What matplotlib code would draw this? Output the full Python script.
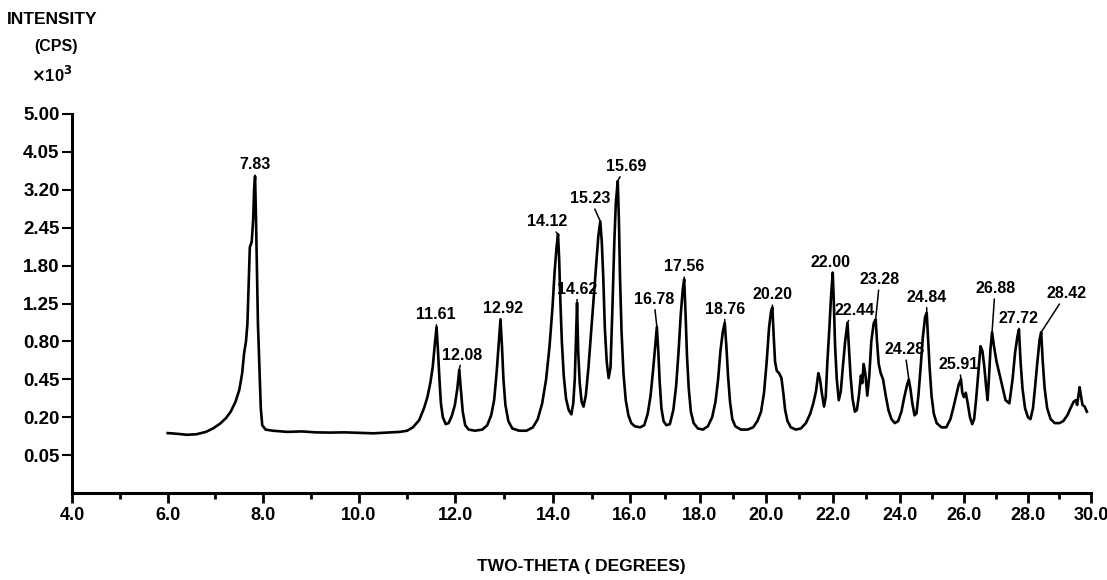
import numpy as np
import matplotlib
matplotlib.use('Agg')
import matplotlib.pyplot as plt
from matplotlib.ticker import FixedLocator, FixedFormatter

plt.rcParams['font.family'] = ['Liberation Sans', 'DejaVu Sans']
plt.rcParams['font.weight'] = 'bold'

# diffraction trace (two-theta in degrees, intensity in 10^3 cps)
two_theta = [
    6.00, 6.20, 6.40, 6.60, 6.80, 6.95, 7.10, 7.22, 7.32, 7.42, 7.50, 7.56, 7.60, 7.64, 7.67,
    7.70, 7.72, 7.76, 7.79, 7.81, 7.83, 7.85, 7.87, 7.89, 7.92, 7.95, 7.98, 8.05, 8.20, 8.50,
    8.80, 9.10, 9.40, 9.70, 10.00, 10.30, 10.60, 10.85, 11.00, 11.12, 11.25, 11.35, 11.42, 11.48,
    11.53, 11.57, 11.61, 11.64, 11.67, 11.70, 11.74, 11.80, 11.86, 11.93, 11.99, 12.04, 12.08,
    12.11, 12.15, 12.20, 12.27, 12.40, 12.55, 12.65, 12.73, 12.79, 12.84, 12.88, 12.92, 12.95,
    12.98, 13.02, 13.08, 13.16, 13.30, 13.45, 13.58, 13.68, 13.77, 13.85, 13.92, 13.98, 14.03,
    14.08, 14.12, 14.15, 14.18, 14.22, 14.27, 14.33, 14.40, 14.47, 14.52, 14.56, 14.59, 14.62,
    14.65, 14.69, 14.74, 14.79, 14.85, 14.92, 14.98, 15.05, 15.12, 15.18, 15.23, 15.27, 15.31,
    15.35, 15.40, 15.45, 15.50, 15.55, 15.60, 15.64, 15.69, 15.72, 15.75, 15.79, 15.84, 15.90,
    15.97, 16.05, 16.15, 16.30, 16.42, 16.52, 16.60, 16.67, 16.73, 16.78, 16.82, 16.86, 16.91,
    16.97, 17.05, 17.15, 17.25, 17.33, 17.40, 17.46, 17.52, 17.56, 17.60, 17.64, 17.69, 17.75,
    17.83, 17.95, 18.10, 18.25, 18.38, 18.48, 18.56, 18.63, 18.70, 18.76, 18.81, 18.86, 18.92,
    18.99, 19.08, 19.25, 19.45, 19.62, 19.75, 19.86, 19.95, 20.03, 20.10, 20.16, 20.20, 20.24,
    20.28, 20.33, 20.40, 20.47, 20.53, 20.58, 20.65, 20.75, 20.90, 21.05, 21.20, 21.33, 21.42,
    21.50, 21.57, 21.62, 21.68, 21.74, 21.79, 21.84, 21.90, 21.95, 22.00, 22.03, 22.07, 22.12,
    22.18, 22.24, 22.30, 22.37, 22.44, 22.48, 22.53, 22.59, 22.66, 22.72, 22.78, 22.84, 22.88,
    22.92, 22.97, 23.03, 23.09, 23.15, 23.22, 23.28, 23.32, 23.37, 23.43, 23.50, 23.58, 23.66,
    23.75, 23.85, 23.95, 24.05, 24.14, 24.22, 24.28, 24.33, 24.39, 24.46, 24.52, 24.58, 24.65,
    24.72, 24.79, 24.84, 24.88, 24.93, 24.99, 25.06, 25.15, 25.30, 25.45, 25.58, 25.68, 25.76,
    25.84, 25.91, 25.95, 26.00, 26.06, 26.12, 26.19, 26.26, 26.32, 26.38, 26.45, 26.52, 26.58,
    26.64, 26.70, 26.74, 26.78, 26.83, 26.88, 26.94, 27.02, 27.15, 27.30, 27.42, 27.52, 27.60,
    27.67, 27.72, 27.77, 27.83, 27.91, 28.00, 28.08, 28.16, 28.23, 28.30, 28.37, 28.42, 28.47,
    28.53, 28.61, 28.72, 28.85, 29.00, 29.12, 29.25, 29.35, 29.45, 29.52, 29.56, 29.60, 29.64,
    29.68, 29.73, 29.80, 29.87]
intensity = [
    0.125, 0.122, 0.118, 0.120, 0.130, 0.145, 0.168, 0.195, 0.230, 0.290, 0.370, 0.500, 0.680, 0.800, 1.000,
    1.600, 2.100, 2.200, 2.600, 3.200, 3.490, 2.600, 1.740, 1.000, 0.550, 0.250, 0.160, 0.140, 0.135, 0.130,
    0.132, 0.128, 0.127, 0.128, 0.126, 0.124, 0.127, 0.130, 0.135, 0.150, 0.185, 0.250, 0.320, 0.420,
    0.550, 0.750, 0.960, 0.700, 0.450, 0.280, 0.200, 0.165, 0.170, 0.210, 0.270, 0.380, 0.530,
    0.380, 0.230, 0.160, 0.140, 0.135, 0.140, 0.160, 0.210, 0.300, 0.500, 0.750, 1.050, 0.750,
    0.450, 0.270, 0.180, 0.145, 0.135, 0.135, 0.150, 0.190, 0.280, 0.450, 0.750, 1.200, 1.700,
    2.100, 2.330, 1.900, 1.300, 0.800, 0.480, 0.310, 0.240, 0.215, 0.280, 0.450, 0.800, 1.260,
    0.700, 0.420, 0.290, 0.260, 0.330, 0.550, 0.850, 1.300, 1.800, 2.300, 2.570, 2.200, 1.600,
    0.950, 0.600, 0.460, 0.550, 1.200, 2.200, 2.940, 3.390, 2.600, 1.600, 0.900, 0.500, 0.300,
    0.210, 0.170, 0.155, 0.150, 0.160, 0.220, 0.330, 0.520, 0.750, 0.960, 0.700, 0.430, 0.250,
    0.180, 0.160, 0.165, 0.240, 0.400, 0.700, 1.100, 1.450, 1.590, 1.100, 0.650, 0.380, 0.230,
    0.170, 0.145, 0.140, 0.155, 0.200, 0.290, 0.450, 0.700, 0.900, 1.010, 0.750, 0.480, 0.290,
    0.190, 0.155, 0.140, 0.140, 0.150, 0.180, 0.230, 0.350, 0.600, 0.950, 1.150, 1.200, 0.850,
    0.600, 0.520, 0.500, 0.460, 0.340, 0.240, 0.180, 0.150, 0.140, 0.145, 0.170, 0.220, 0.280,
    0.360, 0.500, 0.450, 0.340, 0.260, 0.320, 0.600, 0.950, 1.350, 1.690, 1.300, 0.750, 0.450,
    0.300, 0.360, 0.550, 0.800, 1.010, 0.750, 0.480, 0.310, 0.230, 0.240, 0.330, 0.480, 0.420,
    0.580, 0.500, 0.330, 0.480, 0.800, 1.000, 1.050, 0.800, 0.580, 0.500, 0.450, 0.330, 0.240,
    0.190, 0.170, 0.180, 0.230, 0.320, 0.400, 0.450, 0.380, 0.280, 0.210, 0.220, 0.330, 0.550,
    0.850, 1.080, 1.130, 0.850, 0.550, 0.330, 0.220, 0.170, 0.150, 0.150, 0.190, 0.260, 0.330,
    0.410, 0.450, 0.350, 0.320, 0.350, 0.280, 0.200, 0.165, 0.190, 0.300, 0.500, 0.750, 0.700,
    0.550, 0.380, 0.300, 0.450, 0.720, 0.900, 0.750, 0.600, 0.450, 0.300, 0.280, 0.450, 0.690,
    0.850, 0.930, 0.600, 0.380, 0.250, 0.200, 0.190, 0.250, 0.400, 0.600, 0.820, 0.900, 0.600,
    0.380, 0.250, 0.190, 0.170, 0.170, 0.180, 0.210, 0.250, 0.290, 0.300, 0.270, 0.330, 0.390,
    0.330, 0.270, 0.260, 0.230]

peak_labels = ['7.83', '11.61', '12.08', '12.92', '14.12', '14.62', '15.23', '15.69', '16.78',
               '17.56', '18.76', '20.20', '22.00', '22.44', '23.28', '24.28', '24.84', '25.91',
               '26.88', '27.72', '28.42']
# label placement relative to the peak top (pixels)
label_dx = [0, -1, 3, 3, -11, 0, -10, 8, -3, 0, 0, 0, -2, 7, 4, -4, 0, -2, 3, 0, 25]
label_dy = [4, 5, 7, 3, 5, 6, 15, 7, 20, 5, 6, 5, 3, 5, 32, 22, 8, 7, 36, 4, 31]

y_ticks = [0.05, 0.20, 0.45, 0.80, 1.25, 1.80, 2.45, 3.20, 4.05, 5.00]
x_ticks = [4, 6, 8, 10, 12, 14, 16, 18, 20, 22, 24, 26, 28, 30]
x_minor = [5, 7, 9, 11, 13, 15, 17, 19, 21, 23, 25, 27, 29]

# the printed abscissa is not uniform: spacing shrinks toward high angle
axis_deg = [4, 6, 8, 10, 12, 14, 16, 18, 20, 22, 24, 26, 28, 30]
axis_px = [73, 168.6, 264, 359.6, 456, 554, 630, 700, 766, 833, 900, 964, 1028, 1091]


def fwd_x(v):
    return np.interp(v, axis_deg, axis_px)


def inv_x(p):
    return np.interp(p, axis_px, axis_deg)


W, H = 1107, 580
fig = plt.figure(figsize=(W / 100, H / 100), dpi=100)
ax = fig.add_axes([72 / W, 1 - 493 / H, (1091 - 72) / W, (493 - 114) / H])

ax.set_xscale('function', functions=(fwd_x, inv_x))
ax.set_yscale('function', functions=(lambda v: np.sqrt(np.clip(v, 0, None)), lambda v: np.square(v)))
ax.set_xlim(4, 30)
ax.set_ylim(0, 5.0)

ax.plot(two_theta, intensity, color='black', lw=1.9, solid_joinstyle='round')

peak_heights = np.interp([float(s) for s in peak_labels], two_theta, intensity)
for lab, h, dx, dy in zip(peak_labels, peak_heights, label_dx, label_dy):
    ax.annotate(lab, xy=(float(lab), h), xytext=(dx, dy), textcoords='offset pixels',
                ha='center', va='bottom', fontsize=11.5, fontweight='bold',
                arrowprops=dict(arrowstyle='-', color='black', lw=1.1, shrinkA=0, shrinkB=1))

for s in ['top', 'right']:
    ax.spines[s].set_visible(False)
for s in ['left', 'bottom']:
    ax.spines[s].set_linewidth(2.2)

ax.xaxis.set_major_locator(FixedLocator(x_ticks))
ax.xaxis.set_major_formatter(FixedFormatter(['%.1f' % t for t in x_ticks]))
ax.xaxis.set_minor_locator(FixedLocator(x_minor))
ax.yaxis.set_major_locator(FixedLocator(y_ticks))
ax.yaxis.set_major_formatter(FixedFormatter(['%.2f' % t for t in y_ticks]))
ax.yaxis.set_minor_locator(FixedLocator([]))

ax.tick_params(axis='x', which='major', length=7, width=2, direction='out', labelsize=13, pad=3)
ax.tick_params(axis='x', which='minor', length=4, width=2, direction='out')
ax.tick_params(axis='y', which='major', length=7, width=1.5, direction='out', labelsize=13.5, pad=2)

ax.set_xlabel('TWO-THETA ( DEGREES)', fontsize=12.5, fontweight='bold', labelpad=25)

fig.text(52 / W, 1 - 20 / H, 'INTENSITY', ha='center', va='center', fontsize=12.5, fontweight='bold')
fig.text(56 / W, 1 - 46 / H, '(CPS)', ha='center', va='center', fontsize=11.5, fontweight='bold')
fig.text(52 / W, 1 - 75 / H, r'$\times$10$^3$', ha='center', va='center', fontsize=12, fontweight='bold')

fig.savefig('out.png', dpi=100, facecolor='white')
